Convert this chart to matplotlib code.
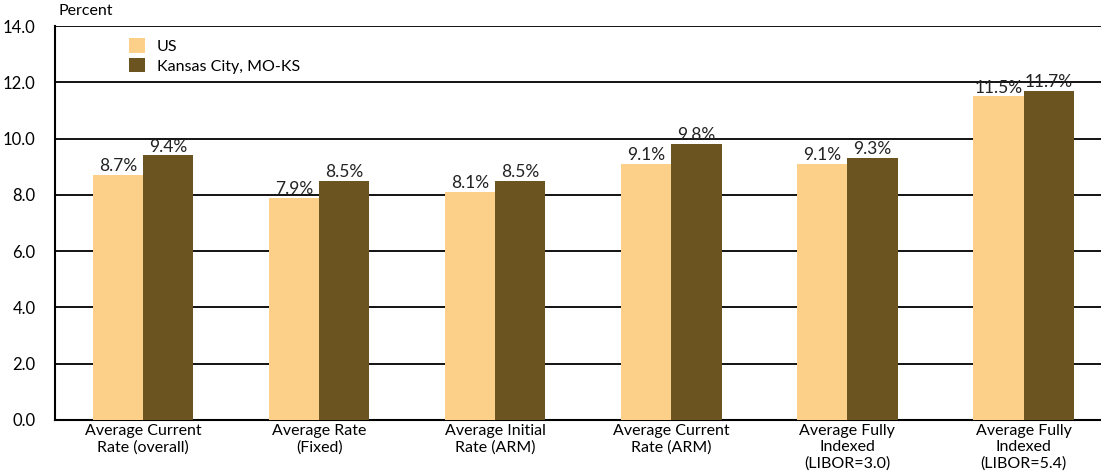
import matplotlib.pyplot as plt
import numpy as np

plt.rcParams['font.family'] = ['Lato', 'DejaVu Sans']

categories = ["Average Current\nRate (overall)", "Average Rate\n(Fixed)",
              "Average Initial\nRate (ARM)", "Average Current\nRate (ARM)",
              "Average Fully\nIndexed\n(LIBOR=3.0)", "Average Fully\nIndexed\n(LIBOR=5.4)"]
us = [8.7, 7.9, 8.1, 9.1, 9.1, 11.5]
kc = [9.4, 8.5, 8.5, 9.8, 9.3, 11.7]
yticks = [0, 2, 4, 6, 8, 10, 12, 14]

c_us = "#fdd08a"
c_kc = "#6b5420"

fig = plt.figure(figsize=(11.01, 4.74), dpi=100)
ax = fig.add_axes([0.05, 0.114, 0.95, 0.831])

x = np.arange(len(categories))
w = 0.285
b1 = ax.bar(x - w/2, us, w, color=c_us, label="US", zorder=3)
b2 = ax.bar(x + w/2, kc, w, color=c_kc, label="Kansas City, MO-KS", zorder=3)

for bars, vals in ((b1, us), (b2, kc)):
    for r, v in zip(bars, vals):
        ax.text(r.get_x() + r.get_width()/2, v + 0.03, f"{v:.1f}%",
                ha="center", va="bottom", fontsize=12.5, color="#222222", zorder=4)

ax.set_xlim(-0.5, 5.44)
ax.set_ylim(0, 14)
ax.set_yticks(yticks)
ax.set_yticklabels([f"{t:.1f}" for t in yticks], fontsize=12)
ax.set_xticks(x)
ax.set_xticklabels(categories, fontsize=11.5, linespacing=1.2)
ax.tick_params(axis="both", length=0, pad=3)
ax.tick_params(axis="y", pad=14)

for t in yticks[1:]:
    ax.axhline(t, color="black", lw=1.3, zorder=1)

for s in ("top", "right"):
    ax.spines[s].set_visible(False)
ax.spines["left"].set_linewidth(1.5)
ax.spines["bottom"].set_linewidth(1.5)

fig.text(0.053, 0.962, "Percent", fontsize=11.5, ha="left", va="bottom")

ax.legend(loc="upper left", bbox_to_anchor=(0.065, 0.985), frameon=False,
          fontsize=11.5, handlelength=1.0, handleheight=1.0, handletextpad=0.7,
          labelspacing=0.25, borderaxespad=0)

fig.savefig("out.png", dpi=100)
